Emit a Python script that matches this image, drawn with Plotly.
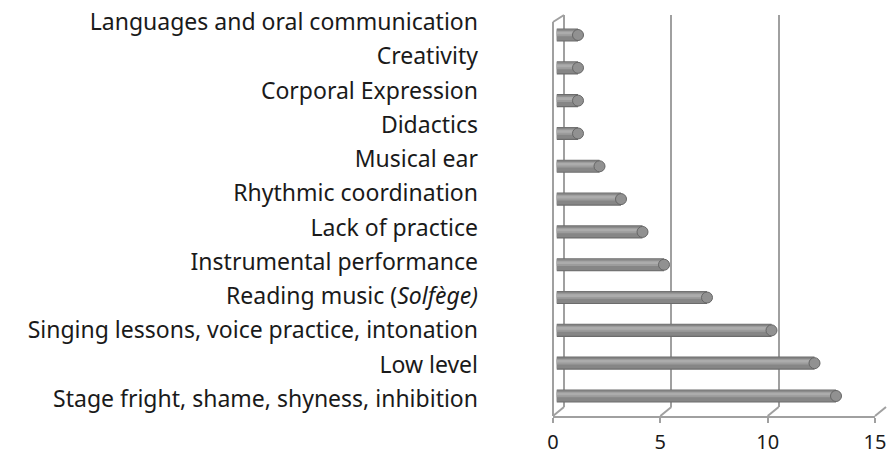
import plotly.graph_objects as go

categories = [
    "Languages and oral communication",
    "Creativity",
    "Corporal Expression",
    "Didactics",
    "Musical ear",
    "Rhythmic coordination",
    "Lack of practice",
    "Instrumental performance",
    "Reading music (<i>Solfège)</i>",
    "Singing lessons, voice practice, intonation",
    "Low level",
    "Stage fright, shame, shyness, inhibition",
]
values = [1, 1, 1, 1, 2, 3, 4, 5, 7, 10, 12, 13]
x_ticks = [0, 5, 10, 15]

W, H = 887, 455
def px(x):
    return x / W
def py(y):
    return 1 - y / H

FONT = "Noto Sans"
GRID = "#a0a0a0"

fig = go.Figure()

fig.add_trace(go.Scatter(x=[None], y=[None], xaxis="x", yaxis="y",
                         showlegend=False, hoverinfo="skip"))

layers = [
    (-0.20, 0.40, "#6c6c6c"),
    (-0.165, 0.34, "#868686"),
    (-0.04, 0.17, "#9c9c9c"),
    (0.02, 0.08, "#acacac"),
]
for off, wd, col in layers:
    fig.add_trace(go.Bar(
        x=values, y=categories, orientation="h",
        offset=off, width=wd,
        marker=dict(color=col, line=dict(width=0)),
        xaxis="x2", yaxis="y2", showlegend=False, hoverinfo="skip",
    ))

fig.add_trace(go.Scatter(
    x=values, y=categories, mode="markers",
    marker=dict(symbol="circle", size=11, color="#919191",
                line=dict(color="#666666", width=1)),
    xaxis="x2", yaxis="y2", showlegend=False, hoverinfo="skip",
))

fig.add_trace(go.Scatter(x=[None], y=[None], xaxis="x3", yaxis="y3",
                         showlegend=False, hoverinfo="skip"))

shapes = []
line = dict(color=GRID, width=2)
shapes.append(dict(type="line", xref="paper", yref="paper",
                   x0=px(553), y0=py(22), x1=px(553), y1=py(416), line=line, layer="below"))
shapes.append(dict(type="line", xref="paper", yref="paper",
                   x0=px(553), y0=py(22), x1=px(564), y1=py(15), line=line, layer="below"))
for k in range(4):
    fx = 553 + k * (875 - 553) / 3
    bx = 564 + k * (886 - 564) / 3
    shapes.append(dict(type="line", xref="paper", yref="paper",
                       x0=px(fx), y0=py(416), x1=px(bx), y1=py(407), line=line, layer="below"))

u = (886 - 564) / 15.0
fig.update_layout(
    width=W, height=H,
    margin=dict(l=0, r=0, t=0, b=0, autoexpand=False),
    paper_bgcolor="white", plot_bgcolor="rgba(0,0,0,0)",
    barmode="overlay",
    showlegend=False,
    shapes=shapes,
    font=dict(family=FONT, size=20, color="#1a1a1a"),
    xaxis=dict(domain=[px(564 - 0.1 * u), px(564 + 15.04 * u)], range=[-0.1, 15.04],
               tickvals=x_ticks, automargin=False,
               showgrid=True, gridcolor=GRID, gridwidth=2, zeroline=False,
               showticklabels=False, ticks="", showline=False, anchor="y"),
    yaxis=dict(domain=[py(407), py(15)], range=[0, 1], visible=False,
               automargin=False, showgrid=False, anchor="x"),
    xaxis2=dict(domain=[px(556.5), px(879)], range=[0, 15], visible=False,
                automargin=False, showgrid=False, zeroline=False, anchor="y2"),
    yaxis2=dict(domain=[py(412.4), py(18.6)], type="category",
                categoryorder="array", categoryarray=categories[::-1],
                automargin=False,
                range=[-0.5, 11.5], visible=False, showgrid=False, anchor="x2"),
    xaxis3=dict(domain=[px(553), px(875)], range=[0, 15], tickvals=x_ticks,
                automargin=False,
                showgrid=False, zeroline=False, showline=True, linecolor=GRID,
                linewidth=2, ticks="outside", ticklen=5, tickcolor=GRID, tickwidth=2,
                ticklabelstandoff=2, anchor="y3",
                tickfont=dict(family=FONT, size=20, color="#1a1a1a")),
    yaxis3=dict(domain=[py(416), py(4.9)], range=[-0.5, 11.5],
                tickmode="array", tickvals=list(range(12)), ticktext=categories[::-1],
                automargin=False,
                showgrid=False, zeroline=False, showline=False, ticks="",
                ticklabelstandoff=74, anchor="x3",
                tickfont=dict(family=FONT, size=23, color="#1a1a1a")),
)

post = (
    "document.documentElement.style.margin='0';"
    "document.body.style.margin='0';document.body.style.padding='0';"
    "document.documentElement.style.overflow='hidden';"
    "document.body.style.overflow='hidden';"
)
fig.write_html("out.html",
               config={"displayModeBar": False, "staticPlot": True},
               post_script=post)
